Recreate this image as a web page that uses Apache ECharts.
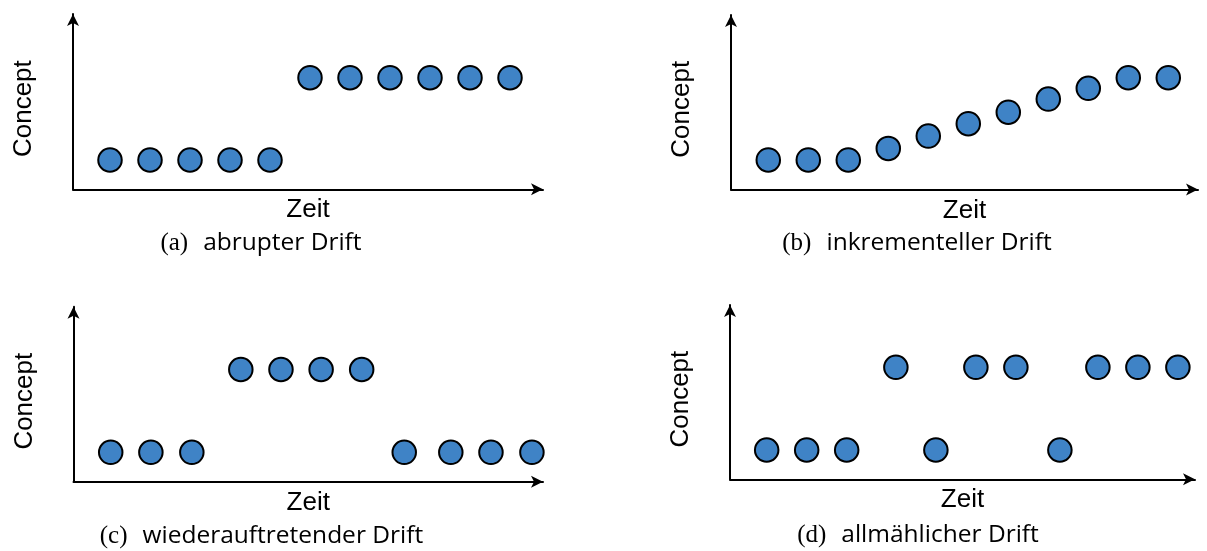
<!DOCTYPE html>
<html>
<head>
<meta charset="utf-8">
<script src="https://cdn.jsdelivr.net/npm/echarts@6/dist/echarts.min.js"></script>
<style>
  html, body { margin: 0; padding: 0; background: #fff; }
  #chart { width: 1207px; height: 551px; }
</style>
</head>
<body>
<div id="chart"></div>
<script>
// ---- data ----
const timeA = [1, 2, 3, 4, 5, 6, 7, 8, 9, 10, 11];
const conceptA = [0, 0, 0, 0, 0, 1, 1, 1, 1, 1, 1];
const timeB = [1, 2, 3, 4, 5, 6, 7, 8, 9, 10, 11];
const conceptB = [0, 0, 0, 0.14, 0.29, 0.44, 0.58, 0.74, 0.87, 1, 1];
const timeC = [1, 2, 3.02, 4.24, 5.24, 6.24, 7.25, 8.31, 9.47, 10.47, 11.49];
const conceptC = [0, 0, 0, 1, 1, 1, 1, 0, 0, 0, 0];
const timeD = [1, 2, 3, 4.23, 5.23, 6.23, 7.23, 8.33, 9.28, 10.28, 11.28];
const conceptD = [0, 0, 0, 1, 0, 1, 1, 0, 1, 1, 1];

const captionLetters = ['(a)', '(b)', '(c)', '(d)'];
const captionTexts = ['abrupter Drift', 'inkrementeller Drift', 'wiederauftretender Drift', 'allmählicher Drift'];
const xAxisName = 'Zeit';
const yAxisName = 'Concept';

// ---- layout ----
const panels = [
  { times: timeA, concepts: conceptA, grid: { left: 73, top: 14, width: 470, height: 175.3 }, x: [0.075, 11.825], y: [-0.356, 1.774], cap: [261, 243] },
  { times: timeB, concepts: conceptB, grid: { left: 731, top: 15, width: 467, height: 174.5 }, x: [0.068, 11.743], y: [-0.36, 1.762], cap: [917, 243] },
  { times: timeC, concepts: conceptC, grid: { left: 73.5, top: 306.7, width: 469.5, height: 175 }, x: [0.073, 11.766], y: [-0.355, 1.758], cap: [261.5, 536] },
  { times: timeD, concepts: conceptD, grid: { left: 730, top: 305, width: 465, height: 174.3 }, x: [0.083, 11.708], y: [-0.354, 1.753], cap: [918, 535] }
];

const axisLine = {
  show: true,
  onZero: false,
  symbol: ['none', 'arrow'],
  symbolSize: [9, 12],
  lineStyle: { color: '#000', width: 2 }
};
const nameFont = { fontFamily: 'Liberation Sans', fontSize: 26, color: '#000', fontWeight: 'normal' };

const option = {
  animation: false,
  backgroundColor: '#fff',
  title: panels.map((p, i) => ({
    text: '{p|' + captionLetters[i] + '}{t|' + captionTexts[i] + '}',
    left: p.cap[0],
    top: p.cap[1],
    textAlign: 'center',
    textVerticalAlign: 'middle',
    padding: 0,
    textStyle: {
      fontWeight: 'normal',
      rich: {
        p: { fontFamily: 'Liberation Serif', fontSize: 25, fontWeight: 'normal', color: '#000', padding: [0, 15, 0, 0] },
        t: { fontFamily: 'Open Sans', fontSize: 24.5, fontWeight: 'normal', color: '#000' }
      }
    }
  })),
  grid: panels.map(p => Object.assign({ containLabel: false }, p.grid)),
  xAxis: panels.map((p, i) => ({
    type: 'value',
    gridIndex: i,
    min: p.x[0],
    max: p.x[1],
    name: xAxisName,
    nameLocation: 'middle',
    nameGap: 8,
    nameTextStyle: Object.assign({ verticalAlign: 'top' }, nameFont),
    axisLine: axisLine,
    axisTick: { show: false },
    axisLabel: { show: false },
    splitLine: { show: false }
  })),
  yAxis: panels.map((p, i) => ({
    type: 'value',
    gridIndex: i,
    min: p.y[0],
    max: p.y[1],
    name: yAxisName,
    nameLocation: 'middle',
    nameRotate: 90,
    nameGap: 36,
    nameTextStyle: Object.assign({ padding: [0, 14, 0, 0] }, nameFont),
    axisLine: axisLine,
    axisTick: { show: false },
    axisLabel: { show: false },
    splitLine: { show: false }
  })),
  series: panels.map((p, i) => ({
    type: 'scatter',
    xAxisIndex: i,
    yAxisIndex: i,
    symbol: 'circle',
    symbolSize: 23.5,
    itemStyle: { color: '#3f83c6', borderColor: '#000', borderWidth: 2, opacity: 1 },
    data: p.times.map((t, k) => [t, p.concepts[k]])
  }))
};

const chart = echarts.init(document.getElementById('chart'), null, { renderer: 'canvas' });
chart.setOption(option);
</script>
</body>
</html>
